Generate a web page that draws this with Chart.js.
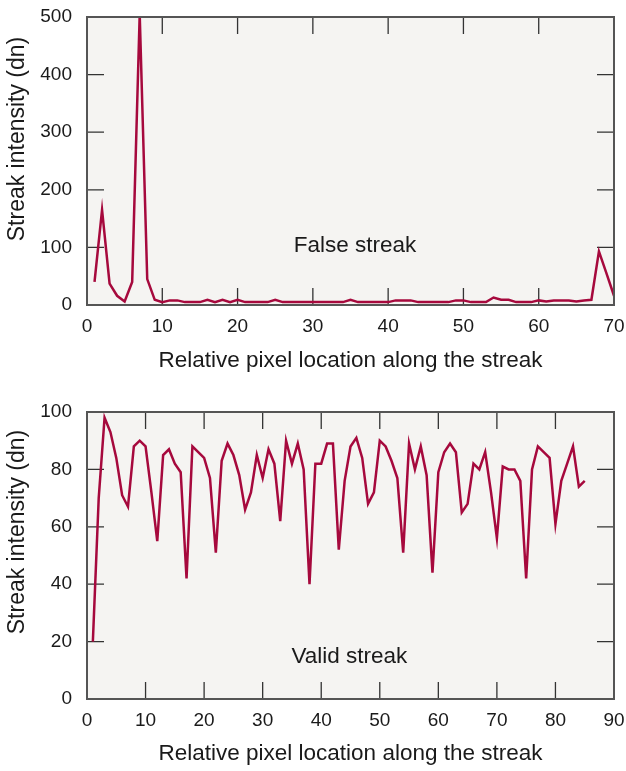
<!DOCTYPE html>
<html>
<head>
<meta charset="utf-8">
<title>Streak intensity profiles</title>
<script src="https://cdn.jsdelivr.net/npm/chart.js"></script>
<style>
  body { margin: 0; background: #fff; }
  .box { position: absolute; left: 0; width: 626px; }
</style>
</head>
<body>
<div class="box" style="top:0;height:385px"><canvas id="falseChart" width="626" height="385"></canvas></div>
<div class="box" style="top:385px;height:386px"><canvas id="validChart" width="626" height="386"></canvas></div>

<script>
// top panel: false streak
const falsePos = [1, 2, 3, 4, 5, 6, 7, 8, 9, 10, 11, 12, 13, 14, 15, 16, 17, 18, 19, 20,
  21, 22, 23, 24, 25, 26, 27, 28, 29, 30, 31, 32, 33, 34, 35, 36, 37, 38, 39, 40,
  41, 42, 43, 44, 45, 46, 47, 48, 49, 50, 51, 52, 53, 54, 55, 56, 57, 58, 59, 60,
  61, 62, 63, 64, 65, 66, 67, 68, 69, 70];
const falseVals = [40, 165, 37, 16, 6, 40, 505, 45, 9, 5, 8, 8, 5, 5, 5, 9, 5, 9, 5, 9,
  5, 5, 5, 5, 9, 5, 5, 5, 5, 5, 5, 5, 5, 5, 9, 5, 5, 5, 5, 5,
  8, 8, 8, 5, 5, 5, 5, 5, 8, 8, 5, 5, 5, 13, 9, 9, 5, 5, 5, 8,
  6, 8, 8, 8, 6, 8, 9, 93, 55, 16];
const falseXTicks = [0, 10, 20, 30, 40, 50, 60, 70];
const falseYTicks = [0, 100, 200, 300, 400, 500];

// bottom panel: valid streak
const validPos = [1, 2, 3, 4, 5, 6, 7, 8, 9, 10, 11, 12, 13, 14, 15, 16, 17, 18, 19, 20,
  21, 22, 23, 24, 25, 26, 27, 28, 29, 30, 31, 32, 33, 34, 35, 36, 37, 38, 39, 40,
  41, 42, 43, 44, 45, 46, 47, 48, 49, 50, 51, 52, 53, 54, 55, 56, 57, 58, 59, 60,
  61, 62, 63, 64, 65, 66, 67, 68, 69, 70, 71, 72, 73, 74, 75, 76, 77, 78, 79, 80,
  81, 82, 83, 84, 85];
const validVals = [20, 70, 98, 93, 84, 71, 67, 88, 90, 88, 72, 55, 85, 87, 82, 79, 42, 88, 86, 84,
  77, 51, 83, 89, 85, 78, 66, 72, 85, 77, 87, 82, 62, 90, 82, 89, 80, 40, 82, 82,
  89, 89, 52, 76, 88, 91, 84, 68, 72, 90, 88, 83, 77, 51, 89, 80, 88, 78, 44, 79,
  86, 89, 86, 65, 68, 82, 80, 86, 72, 56, 81, 80, 80, 76, 42, 80, 88, 86, 84, 61,
  76, 82, 88, 74, 76];
const validXTicks = [0, 10, 20, 30, 40, 50, 60, 70, 80, 90];
const validYTicks = [0, 20, 40, 60, 80, 100];

const LINE = '#a6093d';
const INK = '#1a1a1a';
const FONT = "'Liberation Sans', Arial, sans-serif";

// plot background, inside tick marks, frame and free text
const framePlugin = {
  id: 'frame',
  beforeDraw(chart, args, opts) {
    const a = chart.chartArea, ctx = chart.ctx;
    ctx.save();
    ctx.fillStyle = '#f5f4f2';
    ctx.fillRect(a.left, a.top, a.right - a.left, a.bottom - a.top);
    ctx.restore();
  },
  beforeDatasetsDraw(chart, args, opts) {
    const a = chart.chartArea, ctx = chart.ctx;
    const xs = chart.scales.x, ys = chart.scales.y;
    const len = 17;
    ctx.save();
    ctx.strokeStyle = '#333';
    ctx.lineWidth = 1.3;
    ctx.beginPath();
    xs.ticks.forEach(t => {
      const px = xs.getPixelForValue(t.value);
      if (px <= a.left + 1 || px >= a.right - 1) return;
      ctx.moveTo(px, a.top); ctx.lineTo(px, a.top + len);
      ctx.moveTo(px, a.bottom); ctx.lineTo(px, a.bottom - len);
    });
    ys.ticks.forEach(t => {
      const py = ys.getPixelForValue(t.value);
      if (py <= a.top + 1 || py >= a.bottom - 1) return;
      ctx.moveTo(a.left, py); ctx.lineTo(a.left + len, py);
      ctx.moveTo(a.right, py); ctx.lineTo(a.right - len, py);
    });
    ctx.stroke();
    ctx.restore();
  },
  afterDatasetsDraw(chart, args, opts) {
    const a = chart.chartArea, ctx = chart.ctx;
    ctx.save();
    ctx.strokeStyle = '#555';
    ctx.lineWidth = 2;
    ctx.strokeRect(a.left, a.top, a.right - a.left, a.bottom - a.top);

    ctx.fillStyle = INK;
    ctx.font = '22.5px ' + FONT;
    ctx.textAlign = 'center';
    ctx.textBaseline = 'middle';
    ctx.fillText(opts.note, chart.scales.x.getPixelForValue(opts.noteX), chart.scales.y.getPixelForValue(opts.noteY));

    ctx.font = '23px ' + FONT;
    ctx.translate(opts.yTitleX, opts.yTitleY);
    ctx.rotate(-Math.PI / 2);
    ctx.fillText('Streak intensity (dn)', 0, 0);
    ctx.restore();
  }
};

// keep the plot box where the layout padding puts it
function noScalePadding(s) {
  s.paddingLeft = 0; s.paddingRight = 0; s.paddingTop = 0; s.paddingBottom = 0;
}

function makeChart(id, pos, vals, xTicks, yTicks, topPad, xAxisH, titlePad, frameOpts) {
  const points = pos.map((p, i) => ({ x: p, y: vals[i] }));
  return new Chart(document.getElementById(id), {
    type: 'line',
    data: {
      datasets: [{
        data: points,
        borderColor: LINE,
        borderWidth: 2.5,
        borderJoinStyle: 'miter',
        pointRadius: 0,
        tension: 0,
        fill: false
      }]
    },
    options: {
      responsive: false,
      animation: false,
      layout: { padding: { top: topPad, right: 12, left: 0, bottom: 0 } },
      plugins: {
        legend: { display: false },
        tooltip: { enabled: false },
        frame: frameOpts
      },
      scales: {
        x: {
          type: 'linear',
          min: xTicks[0],
          max: xTicks[xTicks.length - 1],
          afterBuildTicks: s => { s.ticks = xTicks.map(v => ({ value: v })); },
          afterFit: s => { s.height = xAxisH; noScalePadding(s); },
          grid: { display: false, drawTicks: false },
          border: { display: false },
          ticks: { color: INK, font: { family: FONT, size: 19 }, padding: 10, maxRotation: 0, autoSkip: false },
          title: {
            display: true,
            text: 'Relative pixel location along the streak',
            color: INK,
            font: { family: FONT, size: 22.5 },
            padding: { top: 0, bottom: titlePad }
          }
        },
        y: {
          min: yTicks[0],
          max: yTicks[yTicks.length - 1],
          afterBuildTicks: s => { s.ticks = yTicks.map(v => ({ value: v })); },
          afterFit: s => { s.width = 87; noScalePadding(s); },
          grid: { display: false, drawTicks: false },
          border: { display: false },
          ticks: { color: INK, font: { family: FONT, size: 19 }, padding: 15 }
        }
      }
    },
    plugins: [framePlugin]
  });
}

makeChart('falseChart', falsePos, falseVals, falseXTicks, falseYTicks, 17, 80, 11,
  { note: 'False streak', noteX: 35.6, noteY: 103, yTitleX: 18, yTitleY: 139 });
makeChart('validChart', validPos, validVals, validXTicks, validYTicks, 27, 72, 4,
  { note: 'Valid streak', noteX: 44.8, noteY: 14.6, yTitleX: 18, yTitleY: 147 });
</script>
</body>
</html>
